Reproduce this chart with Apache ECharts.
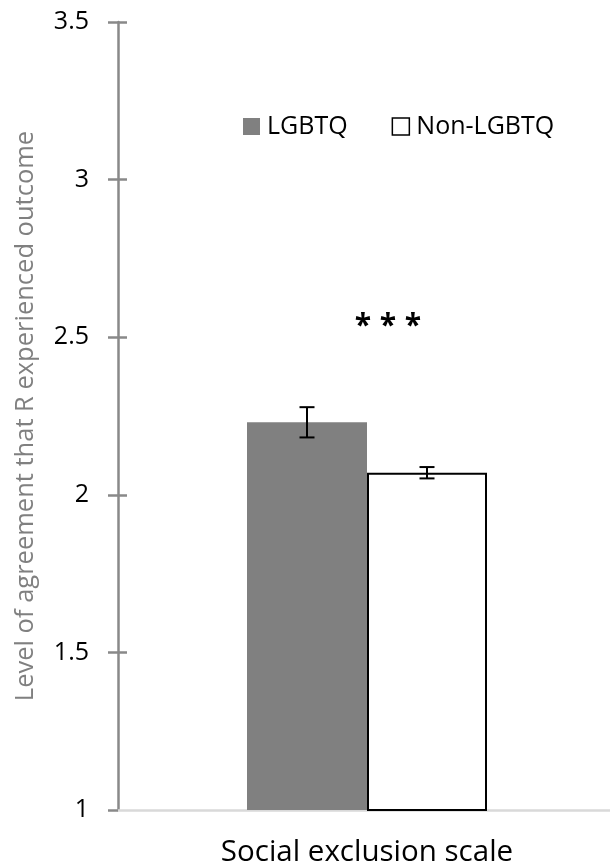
<!DOCTYPE html>
<html>
<head>
<meta charset="utf-8">
<script src="https://cdn.jsdelivr.net/npm/echarts@6/dist/echarts.min.js"></script>
<style>
html,body{margin:0;padding:0;background:#fff;}
#chart{width:610px;height:868px;}
</style>
</head>
<body>
<div id="chart"></div>
<script>
// ---- data ----
const categories = ['Social exclusion scale'];
const seriesNames = ['LGBTQ', 'Non-LGBTQ'];
const lgbtqMean = [2.23];
const nonLgbtqMean = [2.07];
const lgbtqErr = [0.048];
const nonLgbtqErr = [0.018];
const significance = ['***'];
const significanceY = [2.535];
const yMin = 1, yMax = 3.5, yInterval = 0.5;
const yTickValues = [1, 1.5, 2, 2.5, 3, 3.5];

// ---- chart ----
const FONT = 'Open Sans';
const BAR_W = 120;
const chart = echarts.init(document.getElementById('chart'), null, {renderer: 'canvas'});

function errorSeries(means, errs, offset) {
  return {
    type: 'custom',
    silent: true,
    z: 10,
    data: means.map((m, i) => [i, m, errs[i]]),
    renderItem: function (params, api) {
      const c = api.value(0), m = api.value(1), e = api.value(2);
      const hi = api.coord([c, m + e]);
      const lo = api.coord([c, m - e]);
      const x = hi[0] + offset;
      const cap = 7.5;
      const st = {stroke: '#000', lineWidth: 2};
      return {
        type: 'group',
        children: [
          {type: 'line', shape: {x1: x, y1: hi[1], x2: x, y2: lo[1]}, style: st},
          {type: 'line', shape: {x1: x - cap, y1: hi[1], x2: x + cap, y2: hi[1]}, style: st},
          {type: 'line', shape: {x1: x - cap, y1: lo[1], x2: x + cap, y2: lo[1]}, style: st}
        ]
      };
    }
  };
}

const option = {
  backgroundColor: '#fff',
  animation: false,
  grid: {left: 118, right: -6, top: 22, bottom: 58, containLabel: false, outerBoundsMode: 'none'},
  legend: {
    left: 243,
    top: 114,
    padding: 0,
    icon: 'rect',
    itemWidth: 17,
    itemHeight: 17,
    itemGap: 44,
    selectedMode: false,
    textStyle: {fontFamily: FONT, fontSize: 25, color: '#000', padding: [0, 0, 0, 2]},
    data: [
      {name: seriesNames[0], itemStyle: {color: '#808080', borderWidth: 0}},
      {name: seriesNames[1], itemStyle: {color: '#fff', borderColor: '#000', borderWidth: 1.5}}
    ]
  },
  xAxis: {
    type: 'category',
    data: categories,
    axisLine: {show: true, lineStyle: {color: '#d9d9d9', width: 2.5}},
    axisTick: {show: false},
    axisLabel: {fontFamily: FONT, fontSize: 29.5, color: '#000', margin: 28},
    splitLine: {show: false}
  },
  yAxis: [{
    type: 'value',
    min: yMin, max: yMax, interval: yInterval,
    name: 'Level of agreement that R experienced outcome',
    nameLocation: 'middle',
    nameRotate: 90,
    nameGap: 79,
    nameTextStyle: {fontFamily: FONT, fontSize: 25.5, color: '#808080'},
    axisLine: {show: true, lineStyle: {color: '#898989', width: 2.5}},
    axisTick: {show: true, length: 10, lineStyle: {color: '#898989', width: 2.5}},
    axisLabel: {fontFamily: FONT, fontSize: 25, color: '#000', margin: 29},
    splitLine: {show: false}
  }, {
    type: 'value',
    min: yMin, max: yMax, interval: yInterval,
    position: 'left',
    axisLine: {show: false},
    axisTick: {show: true, inside: true, length: 9, customValues: yTickValues.filter(v => v > yMin), lineStyle: {color: '#898989', width: 2.5}},
    axisLabel: {show: false},
    splitLine: {show: false}
  }],
  series: [
    {
      name: seriesNames[0],
      type: 'bar',
      data: lgbtqMean,
      barWidth: BAR_W,
      barGap: '0%',
      itemStyle: {color: '#808080'}
    },
    {
      name: seriesNames[1],
      type: 'bar',
      data: nonLgbtqMean,
      barWidth: BAR_W,
      barGap: '0%',
      itemStyle: {color: '#fff', borderColor: '#000', borderWidth: 2}
    },
    errorSeries(lgbtqMean, lgbtqErr, -BAR_W / 2),
    errorSeries(nonLgbtqMean, nonLgbtqErr, BAR_W / 2),
    {
      type: 'custom',
      silent: true,
      z: 11,
      data: significance.map((s, i) => [i, significanceY[i]]),
      renderItem: function (params, api) {
        const p = api.coord([api.value(0), api.value(1)]);
        const chars = significance[params.dataIndex].split('');
        const step = 25;
        const x0 = p[0] + 21 - (chars.length - 1) * step / 2;
        return {
          type: 'group',
          children: chars.map((ch, k) => ({
            type: 'text',
            x: x0 + k * step,
            y: p[1],
            style: {
              text: ch,
              font: 'bold 30px "' + FONT + '"',
              fill: '#000',
              align: 'center',
              verticalAlign: 'middle'
            }
          }))
        };
      }
    }
  ]
};
chart.setOption(option);
</script>
</body>
</html>
